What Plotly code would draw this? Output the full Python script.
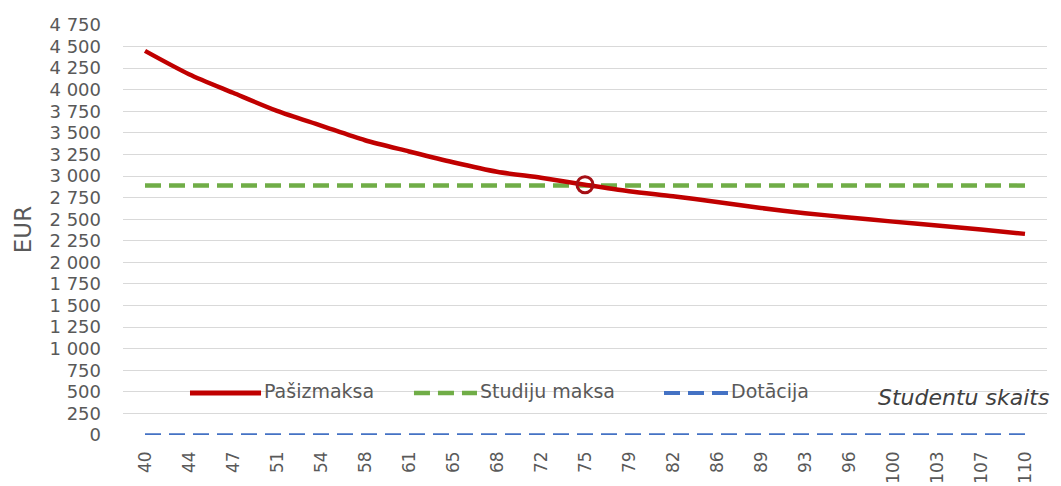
import plotly.graph_objects as go

# student count categories (x axis labels)
students = ["40", "44", "47", "51", "54", "58", "61", "65", "68", "72", "75",
            "79", "82", "86", "89", "93", "96", "100", "103", "107", "110"]

# cost per student, EUR
pasizmaksa = [4450, 4180, 3965, 3755, 3585, 3415, 3285, 3160, 3050, 2980, 2900,
              2825, 2765, 2700, 2630, 2570, 2520, 2472, 2428, 2380, 2330]
studiju_maksa = [2890] * len(students)
dotacija = [0] * len(students)

crossing_label = "75"

RED = "#C00000"
GREEN = "#70AD47"
BLUE = "#4472C4"
TXT = "#595959"
FONT = "DejaVu Sans"

fig = go.Figure()
fig.add_trace(go.Scatter(x=students, y=dotacija, mode="lines", name="Dotācija",
                         line=dict(color=BLUE, width=3.5, dash="16px,8px")))
fig.add_trace(go.Scatter(x=students, y=studiju_maksa, mode="lines", name="Studiju maksa",
                         line=dict(color=GREEN, width=4.5, dash="16px,8px")))
fig.add_trace(go.Scatter(x=students, y=pasizmaksa, mode="lines", name="Pašizmaksa",
                         line=dict(color=RED, width=4.5, shape="spline", smoothing=0.8)))
# break-even marker
i = students.index(crossing_label)
fig.add_trace(go.Scatter(x=[crossing_label], y=[pasizmaksa[i]], mode="markers",
                         marker=dict(symbol="circle-open", size=16, color="#A50F15",
                                     line=dict(color="#A50F15", width=3)),
                         showlegend=False))

# hand-drawn legend (Excel style, long line samples)
legend_items = [
    ("Pašizmaksa", RED, "solid", 5, 0.0725, 0.1494),
    ("Studiju maksa", GREEN, "16px,8px", 4.5, 0.3149, 0.3831),
    ("Dotācija", BLUE, "16px,8px", 4, 0.5855, 0.6548),
]
ly = 0.1024
shapes = []
annotations = []
for name, color, dash, w, x0, x1 in legend_items:
    shapes.append(dict(type="line", xref="paper", yref="paper", x0=x0, x1=x1,
                       y0=ly, y1=ly, line=dict(color=color, width=w, dash=dash)))
    annotations.append(dict(text=name, xref="paper", yref="paper", x=x1 + 0.001,
                            y=ly + 0.004, xanchor="left", yanchor="middle",
                            showarrow=False, font=dict(family=FONT, size=19, color=TXT)))

annotations.append(dict(text="<i>Studentu skaits</i>", xref="paper", yref="paper",
                        x=1.004, y=0.092, xanchor="right", yanchor="middle",
                        showarrow=False, font=dict(family=FONT, size=22, color="#404040")))
# y axis title
annotations.append(dict(text="EUR", xref="paper", yref="paper", x=-0.108, y=0.5,
                        xanchor="center", yanchor="middle", textangle=-90,
                        showarrow=False, font=dict(family=FONT, size=23, color=TXT)))

# page body adds an 8px offset, so the figure is sized 8px smaller
fig.update_layout(
    width=1053, height=478,
    margin=dict(l=115, r=14, t=17, b=51),
    paper_bgcolor="white", plot_bgcolor="white",
    separators=", ",
    showlegend=False,
    shapes=shapes,
    annotations=annotations,
    font=dict(family=FONT, color=TXT),
    xaxis=dict(type="category", tickangle=-90, showgrid=False, showline=False,
               zeroline=False, ticks="", tickfont=dict(size=17, color=TXT),
               ticklabelstandoff=12, automargin=False,
               range=[-0.5, len(students) - 0.5]),
    yaxis=dict(range=[0, 4750], dtick=250, tickformat=",d", showgrid=True,
               gridcolor="#D9D9D9", gridwidth=1, zeroline=False, showline=False,
               tickfont=dict(size=18, color=TXT), ticklabelstandoff=21,
               automargin=False),
)

fig.write_html("out.html")
